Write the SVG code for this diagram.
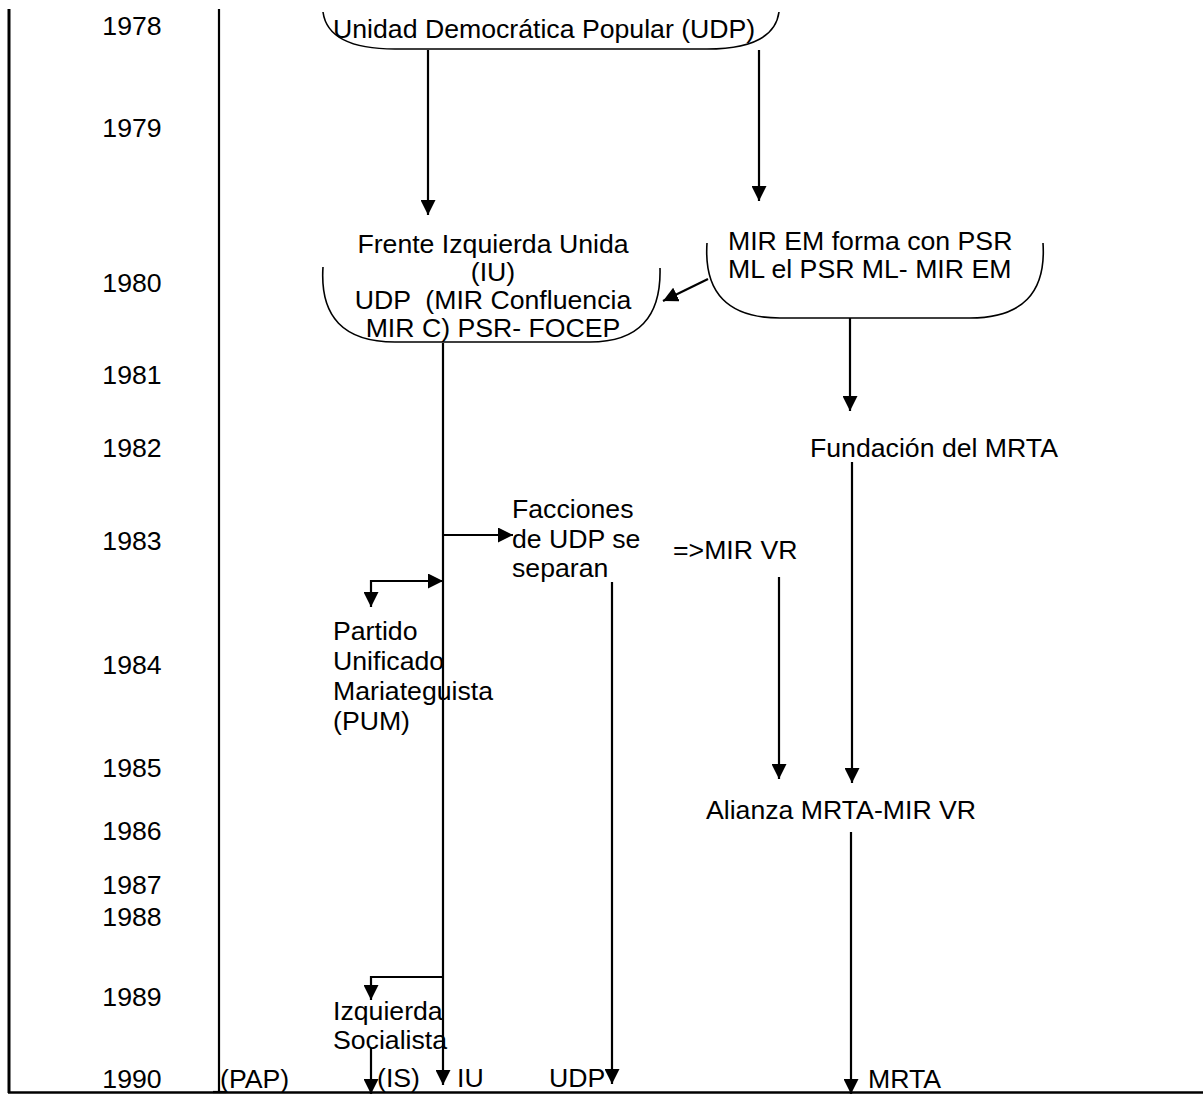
<svg xmlns="http://www.w3.org/2000/svg" width="1203" height="1095" viewBox="0 0 1203 1095">
<defs>
<marker id="ah" viewBox="0 0 15 15" refX="15" refY="7.5" markerWidth="15" markerHeight="15" markerUnits="userSpaceOnUse" orient="auto">
<path d="M0,0 L15,7.5 L0,15 z" fill="#000"/>
</marker>
<style>
text{font-family:"Liberation Sans",Arial,sans-serif;font-size:26.67px;fill:#000}
.c{text-anchor:middle}
.ln{stroke:#000;stroke-width:2.2;fill:none}
.ar{stroke:#000;stroke-width:2.2;fill:none;marker-end:url(#ah)}
.br{stroke:#000;stroke-width:1.6;fill:none}
</style>
</defs>
<rect width="1203" height="1095" fill="#fff"/>
<g id="frame">
<line class="ln" x1="9" y1="9" x2="9" y2="1093" style="stroke-width:3"/>
<line class="ln" x1="8" y1="1092.5" x2="1203" y2="1092.5" style="stroke-width:2.5"/>
<line class="ln" x1="219" y1="9" x2="219" y2="1092"/>
<line class="ln" x1="213" y1="1092" x2="226" y2="1092"/>
</g>
<g id="years">
<text class="c" x="132" y="35">1978</text>
<text class="c" x="132" y="137">1979</text>
<text class="c" x="132" y="292">1980</text>
<text class="c" x="132" y="384">1981</text>
<text class="c" x="132" y="457">1982</text>
<text class="c" x="132" y="550">1983</text>
<text class="c" x="132" y="674">1984</text>
<text class="c" x="132" y="777">1985</text>
<text class="c" x="132" y="840">1986</text>
<text class="c" x="132" y="894">1987</text>
<text class="c" x="132" y="926">1988</text>
<text class="c" x="132" y="1006">1989</text>
<text class="c" x="132" y="1088">1990</text>
</g>
<g id="udp">
<path class="br" d="M323,12 Q328,49 395,49 L707,49 Q774,49 779,12"/>
<text x="333" y="38">Unidad Democrática Popular (UDP)</text>
</g>
<g id="iu">
<path class="br" d="M323,267 Q318,342 395,342 L590,342 Q662,342 660,268"/>
<text class="c" x="493" y="253">Frente Izquierda Unida</text>
<text class="c" x="493" y="281">(IU)</text>
<text class="c" x="493" y="309" xml:space="preserve">UDP  (MIR Confluencia</text>
<text class="c" x="493" y="337">MIR C) PSR- FOCEP</text>
</g>
<g id="mirem">
<path class="br" d="M707,243 Q702,318 780,318 L970,318 Q1048,318 1043,243"/>
<text x="728" y="250">MIR EM forma con PSR</text>
<text x="728" y="278">ML el PSR ML- MIR EM</text>
</g>
<g id="mrta-fund"><text x="810" y="457">Fundación del MRTA</text></g>
<g id="facciones">
<text x="512" y="518">Facciones</text>
<text x="512" y="548">de UDP se</text>
<text x="512" y="577">separan</text>
</g>
<g id="mirvr"><text x="673" y="559">=&gt;MIR VR</text></g>
<g id="pum">
<text x="333" y="640">Partido</text>
<text x="333" y="670">Unificado</text>
<text x="333" y="700">Mariateguista</text>
<text x="333" y="730">(PUM)</text>
</g>
<g id="alianza"><text x="706" y="819">Alianza MRTA-MIR VR</text></g>
<g id="is">
<text x="333" y="1020">Izquierda</text>
<text x="333" y="1049">Socialista</text>
</g>
<g id="bottom-labels">
<text x="220" y="1088">(PAP)</text>
<text x="377" y="1087">(IS)</text>
<text x="457" y="1087">IU</text>
<text x="549" y="1087">UDP</text>
<text x="868" y="1088">MRTA</text>
</g>
<g id="connectors">
<line class="ar" x1="428" y1="50" x2="428" y2="215"/>
<line class="ar" x1="759" y1="50" x2="759" y2="201"/>
<line class="ar" x1="708" y1="279" x2="663" y2="301"/>
<line class="ar" x1="850" y1="318" x2="850" y2="411"/>
<line class="ar" x1="443" y1="343" x2="443" y2="1085"/>
<line class="ar" x1="443" y1="535" x2="513" y2="535"/>
<line class="ar" x1="370" y1="581" x2="443" y2="581"/>
<line class="ar" x1="371" y1="580" x2="371" y2="607"/>
<line class="ar" x1="852" y1="462" x2="852" y2="783"/>
<line class="ar" x1="779" y1="577" x2="779" y2="779"/>
<line class="ar" x1="612" y1="582" x2="612" y2="1084"/>
<polyline class="ar" points="443,977 371,977 371,1000"/>
<line class="ar" x1="371" y1="1048" x2="371" y2="1094"/>
<line class="ar" x1="851" y1="832" x2="851" y2="1094"/>
</g>
</svg>
